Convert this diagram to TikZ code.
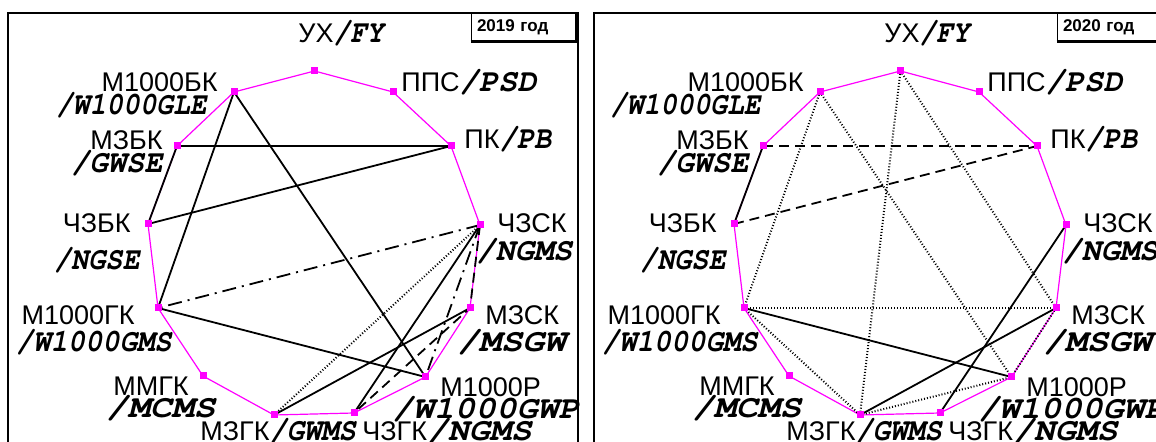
\documentclass[tikz,border=0pt]{standalone}
\usepackage{fontspec}
\usepackage{graphicx}
\usepackage{tikz}
\setmainfont{Liberation Sans}
\newfontfamily\latfont{TeX Gyre Cursor}
\newcommand{\engl}[2][1]{\scalebox{#1}[1]{\latfont\bfseries\itshape\fontsize{16}{18}\selectfont #2}}
\definecolor{ringpink}{RGB}{255,0,255}

\begin{document}
\begin{tikzpicture}[x=0.5pt,y=-0.5pt,
  lbl/.style={inner sep=0pt,font=\fontsize{13.5}{15}\selectfont},
  ring/.style={ringpink,line width=0.6pt},
  link/.style={line width=0.9pt},
  linkdash/.style={link,dash pattern=on 5pt off 3pt},
  linkdot/.style={line width=1pt,dash pattern=on 0.5pt off 1pt},
  linkdd/.style={link,dash pattern=on 7pt off 3pt on 1pt off 3pt},
  vtx/.style={fill=ringpink,inner sep=0pt,minimum size=3.5pt},
  yearbox/.style={draw,line width=0.5pt,inner xsep=3pt,inner ysep=0pt,text width=46.5pt,align=left,
    minimum height=14pt,font=\fontsize{8.5}{10}\selectfont\bfseries}]
\useasboundingbox (0,0) rectangle (1156,442);
\clip (0,0) rectangle (1156,442);
\foreach \p/\dx/\yr/\gle in {a/0/2019/207,b/586/2020/175}{
\begin{scope}[shift={(\dx,0)}]
\draw[line width=1pt] (8,13) rectangle (578,470);
\node[yearbox] (\p-year) at (523.5,27) {\yr~год};
\draw[line width=1.2pt] (\p-year.south west) -- (\p-year.south east) -- (\p-year.north east);
\foreach \v/\x/\y in {ux/314.5/71,pps/393/92,pk/451/146,chzsk/480/225,mzsk/470/308,m1000r/425.5/377,
  chzgk/354/413,mzgk/274/415,mmgk/203/376,m1000gk/158/308,chzbk/148/224,mzbk/177/146,m1000bk/234/92}
  {\coordinate (\p-\v) at (\x,\y);}
\draw[ring] (\p-ux)--(\p-pps)--(\p-pk)--(\p-chzsk)--(\p-mzsk)--(\p-m1000r)--(\p-chzgk)
  --(\p-mzgk)--(\p-mmgk)--(\p-m1000gk)--(\p-chzbk)--(\p-mzbk)--(\p-m1000bk)--cycle;
\node[lbl,anchor=base west] (\p-ux-t) at (298,43) {УХ\engl[0.87]{/FY}};
\node[lbl,anchor=base west] (\p-pps-t) at (401,92) {ППС\engl{/PSD}};
\node[lbl,anchor=base west] (\p-pk-t) at (464,149) {ПК\engl[0.9]{/PB}};
\node[lbl,anchor=base west] (\p-chzsk-t) at (497,233) {ЧЗСК};
\node[lbl,anchor=base west] (\p-chzsk-e) at (476,261) {\engl{/NGMS}};
\node[lbl,anchor=base west] (\p-mzsk-t) at (485,325) {МЗСК};
\node[lbl,anchor=base west] (\p-mzsk-e) at (457,352) {\engl[1.13]{/MSGW}};
\node[lbl,anchor=base west] (\p-m1000r-t) at (440,397) {М1000Р};
\node[lbl,anchor=base west] (\p-m1000r-e) at (392,419) {\engl[1.08]{/W1000GWP}};
\node[lbl,anchor=base west] (\p-chzgk-t) at (362,441) {ЧЗГК\engl[1.09]{/NGMS}};
\node[lbl,anchor=base west] (\p-mzgk-t) at (200,441) {МЗГК\engl[0.9]{/GWMS}};
\node[lbl,anchor=base east] (\p-mmgk-t) at (189,396) {ММГК};
\node[lbl,anchor=base east] (\p-mmgk-e) at (216,418) {\engl[1.14]{/MCMS}};
\node[lbl,anchor=base east] (\p-m1000gk-t) at (135,325) {М1000ГК};
\node[lbl,anchor=base east] (\p-m1000gk-e) at (172,352) {\engl[0.9]{/W1000GMS}};
\node[lbl,anchor=base east] (\p-chzbk-t) at (131,233) {ЧЗБК};
\node[lbl,anchor=base east] (\p-chzbk-e) at (140,270) {\engl[0.89]{/NGSE}};
\node[lbl,anchor=base east] (\p-mzbk-t) at (163,150) {МЗБК};
\node[lbl,anchor=base east] (\p-mzbk-e) at (163,173) {\engl[0.95]{/GWSE}};
\node[lbl,anchor=base east] (\p-m1000bk-t) at (218,92) {М1000БК};
\node[lbl,anchor=base east] (\p-m1000bk-e) at (\gle,115) {\engl[0.87]{/W1000GLE}};
\end{scope}}
\draw[link] (a-m1000bk) -- (a-m1000r);
\draw[link] (a-m1000bk) -- (a-m1000gk);
\draw[link] (a-mzbk) -- (a-pk);
\draw[link] (a-mzbk) -- (a-chzbk);
\draw[link] (a-chzbk) -- (a-pk);
\draw[link] (a-m1000gk) -- (a-m1000r);
\draw[link] (a-mzgk) -- (a-mzsk);
\draw[link] (a-chzgk) -- (a-chzsk);
\draw[linkdd] (a-chzsk) -- (a-m1000gk);
\draw[linkdd] (a-chzsk) -- (a-m1000r);
\draw[linkdot] (a-mzgk) -- (a-chzsk);
\draw[linkdash] (a-chzsk) -- (a-mzsk) -- (a-chzgk);
\draw[linkdot] (b-ux) -- (b-mzgk);
\draw[linkdot] (b-ux) -- (b-mzsk);
\draw[linkdot] (b-m1000bk) -- (b-m1000r);
\draw[linkdot] (b-m1000bk) -- (b-m1000gk);
\draw[linkdot] (b-m1000gk) -- (b-mzsk);
\draw[linkdot] (b-m1000gk) -- (b-mzgk);
\draw[linkdot] (b-mzgk) -- (b-m1000r);
\draw[linkdot] (b-mzsk) -- (b-m1000r);
\draw[linkdash] (b-mzbk) -- (b-pk);
\draw[linkdash] (b-chzbk) -- (b-pk);
\draw[link] (b-mzbk) -- (b-chzbk);
\draw[link] (b-m1000gk) -- (b-m1000r);
\draw[link] (b-mzgk) -- (b-mzsk);
\draw[link] (b-chzgk) -- (b-chzsk);
\foreach \p in {a,b}
  \foreach \v in {ux,pps,pk,chzsk,mzsk,m1000r,chzgk,mzgk,mmgk,m1000gk,chzbk,mzbk,m1000bk}
    {\node[vtx] (\p-\v-sq) at (\p-\v) {};}
\end{tikzpicture}
\end{document}
